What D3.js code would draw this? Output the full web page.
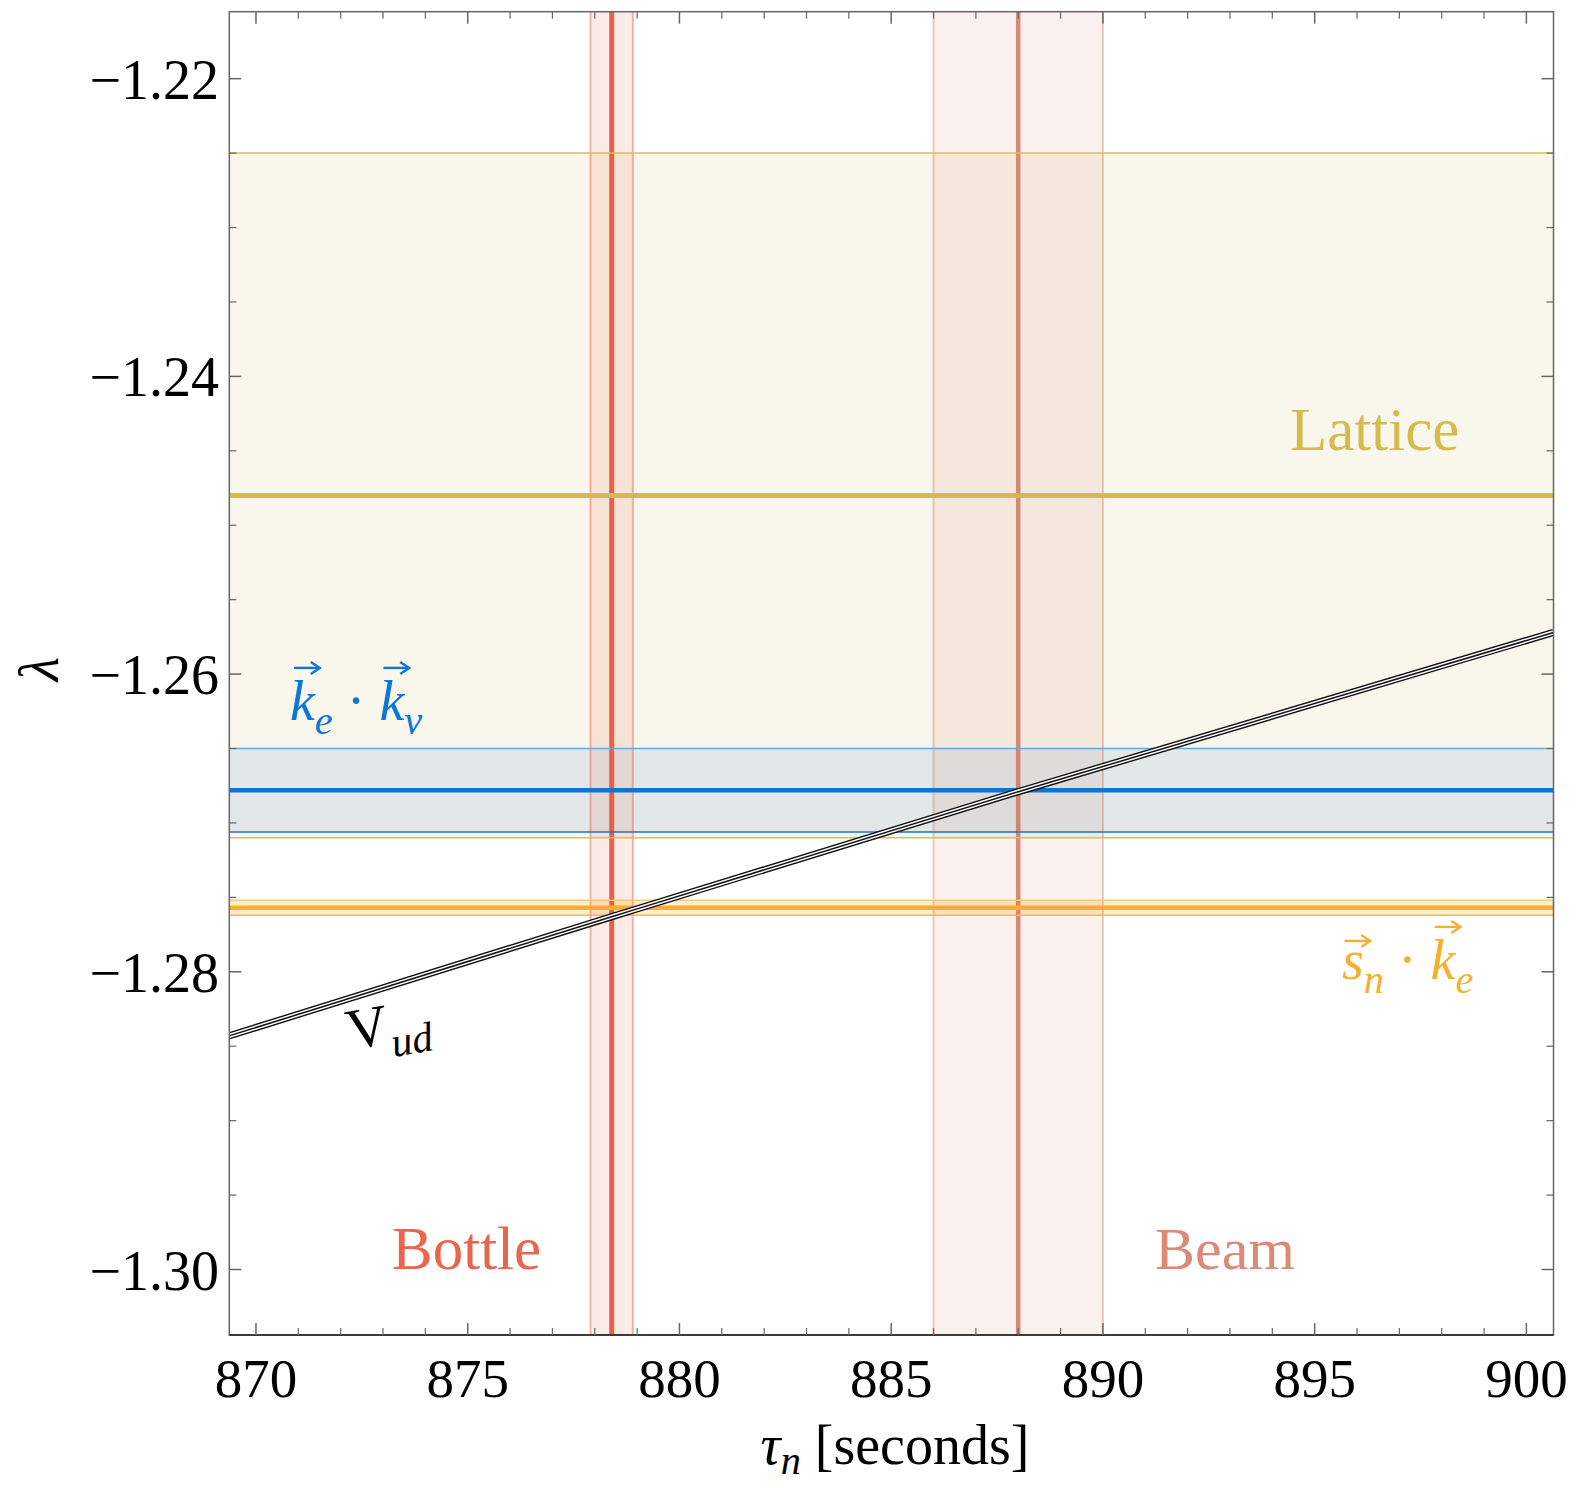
<!DOCTYPE html>
<html><head><meta charset="utf-8">
<script src="https://cdn.jsdelivr.net/npm/d3@7"></script>
<style>body{margin:0;background:#fff}svg{display:block}</style>
</head><body>
<svg id="c" width="1577" height="1488"></svg>
<script>
// ---- data ----
const xTicksMajor = [870, 875, 880, 885, 890, 895, 900];
const yTicksMajor = [-1.30, -1.28, -1.26, -1.24, -1.22];
const xDomain = [869.37, 900.64];
const yDomain = [-1.3044, -1.2155];
const vBandNames = ["Bottle", "Beam"];
const vBandCenter = [878.4, 888.0];
const vBandErr = [0.5, 2.0];
const hBandNames = ["Lattice", "keknu", "snke"];
const hBandCenter = [-1.248, -1.2678, -1.2757];
const hBandErr = [0.023, 0.0028, 0.0005];
const vudTau = [869.37, 878.4, 888.0, 900.64];
const vudLambda = [-1.2843, -1.2763, -1.2679, -1.2572];

// ---- layout ----
const L = 229.3, T = 11.7, R = 1553.5, B = 1335;
const svg = d3.select("#c");
const x = d3.scaleLinear(xDomain, [L, R]);
const y = d3.scaleLinear(yDomain, [B, T]);
const serif = "'Liberation Serif','Times New Roman',serif";

svg.append("defs").append("clipPath").attr("id", "clip")
  .append("rect").attr("x", L).attr("y", T).attr("width", R - L).attr("height", B - T);
const plot = svg.append("g").attr("clip-path", "url(#clip)");

const vStyle = {
  Bottle: {fill: "rgba(235,122,95,0.15)", edge: "rgba(235,100,70,0.45)", line: "#E8604A", lw: 5},
  Beam:   {fill: "rgba(205,105,85,0.10)", edge: "rgba(205,110,90,0.35)", line: "rgba(200,100,75,0.72)", lw: 4.5}
};
const hStyle = {
  Lattice: {fill: "rgba(205,180,97,0.12)", edgeTop: "#D6BF5C", edgeBot: "#D6BF5C", line: "#D4BC4C", lw: 5},
  keknu:   {fill: "rgba(20,105,185,0.10)", edgeTop: "#62AAE8", edgeBot: "#1F72C6", line: "#0A74DA", lw: 4.5},
  snke:    {fill: "rgba(245,175,45,0.22)", edgeTop: "#F9CB70", edgeBot: "#F6B840", line: "#F5B02E", lw: 4.5}
};

// fills
hBandNames.forEach((n, i) => {
  plot.append("rect").attr("x", L).attr("width", R - L)
    .attr("y", y(hBandCenter[i] + hBandErr[i]))
    .attr("height", y(hBandCenter[i] - hBandErr[i]) - y(hBandCenter[i] + hBandErr[i]))
    .attr("fill", hStyle[n].fill);
});
vBandNames.forEach((n, i) => {
  plot.append("rect").attr("y", T).attr("height", B - T)
    .attr("x", x(vBandCenter[i] - vBandErr[i]))
    .attr("width", x(vBandCenter[i] + vBandErr[i]) - x(vBandCenter[i] - vBandErr[i]))
    .attr("fill", vStyle[n].fill);
});
// vertical edges and center lines
vBandNames.forEach((n, i) => {
  const s = vStyle[n];
  [vBandCenter[i] - vBandErr[i], vBandCenter[i] + vBandErr[i]].forEach(v => {
    plot.append("line").attr("x1", x(v)).attr("x2", x(v)).attr("y1", T).attr("y2", B)
      .attr("stroke", s.edge).attr("stroke-width", 2);
  });
  plot.append("line").attr("x1", x(vBandCenter[i])).attr("x2", x(vBandCenter[i]))
    .attr("y1", T).attr("y2", B).attr("stroke", s.line).attr("stroke-width", s.lw);
});
// horizontal edges and center lines
hBandNames.forEach((n, i) => {
  const s = hStyle[n];
  const ed = [[hBandCenter[i] + hBandErr[i], s.edgeTop], [hBandCenter[i] - hBandErr[i], s.edgeBot]];
  ed.forEach(([v, c]) => {
    plot.append("line").attr("x1", L).attr("x2", R).attr("y1", y(v)).attr("y2", y(v))
      .attr("stroke", c).attr("stroke-width", 1.5);
  });
  plot.append("line").attr("x1", L).attr("x2", R)
    .attr("y1", y(hBandCenter[i])).attr("y2", y(hBandCenter[i]))
    .attr("stroke", s.line).attr("stroke-width", s.lw);
});

// V_ud triple line
const vud = d3.line().x(d => x(d[0])).y(d => y(d[1])).curve(d3.curveMonotoneX);
const vudData = vudTau.map((t, i) => [t, vudLambda[i]]);
[["#111", 7.2], ["#fff", 4.4], ["#111", 1.5]].forEach(([c, w]) => {
  plot.append("path").attr("d", vud(vudData)).attr("fill", "none")
    .attr("stroke", c).attr("stroke-width", w);
});

// frame
const frame = svg.append("g");
frame.append("rect").attr("x", L).attr("y", T).attr("width", R - L).attr("height", B - T)
  .attr("fill", "none").attr("stroke", "#666").attr("stroke-width", 1.5);
frame.append("line").attr("x1", L).attr("x2", R).attr("y1", B).attr("y2", B)
  .attr("stroke", "#222").attr("stroke-width", 1.6);

// ticks
const xMinor = d3.range(870, 901, 1).filter(v => !xTicksMajor.includes(v));
const yMinor = d3.range(-1.300, -1.2149, 0.005).filter(v => !yTicksMajor.some(m => Math.abs(m - v) < 1e-6) && v > yDomain[0] && v < yDomain[1]);
const tickG = svg.append("g").attr("stroke", "#666");
function xt(v, len, w) {
  tickG.append("line").attr("x1", x(v)).attr("x2", x(v)).attr("y1", B).attr("y2", B - len).attr("stroke-width", w);
  tickG.append("line").attr("x1", x(v)).attr("x2", x(v)).attr("y1", T).attr("y2", T + len).attr("stroke-width", w);
}
function yt(v, len, w) {
  tickG.append("line").attr("y1", y(v)).attr("y2", y(v)).attr("x1", L).attr("x2", L + len).attr("stroke-width", w);
  tickG.append("line").attr("y1", y(v)).attr("y2", y(v)).attr("x1", R).attr("x2", R - len).attr("stroke-width", w);
}
xTicksMajor.forEach(v => xt(v, 12, 1.5));
xMinor.forEach(v => xt(v, 7, 1.2));
yTicksMajor.forEach(v => yt(v, 12, 1.5));
yMinor.forEach(v => yt(v, 7, 1.2));

// tick labels
const fmtY = v => "\u2212" + Math.abs(v).toFixed(2);
svg.append("g").selectAll("text").data(xTicksMajor).join("text")
  .attr("x", d => x(d)).attr("y", 1397).attr("text-anchor", "middle")
  .attr("font-family", serif).attr("font-size", 55).attr("fill", "#000").text(d => d);
svg.append("g").selectAll("text").data(yTicksMajor).join("text")
  .attr("x", 219).attr("y", d => y(d) + 20).attr("text-anchor", "end")
  .attr("font-family", serif).attr("font-size", 56).attr("fill", "#000").text(fmtY);

// rich text helper
function rich(parent, px, py, parts, fs, color, anchor, subK) {
  const sk = subK === undefined ? 0.25 : subK;
  const t = parent.append("text").attr("x", px).attr("y", py)
    .attr("font-family", serif).attr("font-size", fs).attr("fill", color)
    .attr("text-anchor", anchor || "start");
  let cur = 0, idx = 0;
  const vecs = [];
  parts.forEach(p => {
    const shift = p.sub ? sk * fs : 0;
    t.append("tspan").attr("dy", shift - cur)
      .attr("font-size", p.sub ? fs * 0.72 : fs)
      .attr("font-style", p.it ? "italic" : "normal").text(p.t);
    cur = shift;
    if (p.vec) vecs.push({i: idx, h: p.vec});
    idx += p.t.length;
  });
  const node = t.node();
  vecs.forEach(v => {
    const e = node.getExtentOfChar(v.i);
    const cx = e.x + e.width / 2 + 0.08 * fs;
    const w = 0.46 * fs;
    const ay = py - v.h * fs;
    const x0 = cx - w / 2, x1 = cx + w / 2;
    parent.append("line").attr("x1", x0).attr("x2", x1 - 2).attr("y1", ay).attr("y2", ay)
      .attr("stroke", color).attr("stroke-width", 2.4);
    parent.append("path")
      .attr("d", `M${x1 - 9},${ay - 6} L${x1},${ay} L${x1 - 9},${ay + 6}`)
      .attr("fill", "none").attr("stroke", color).attr("stroke-width", 2.4)
      .attr("stroke-linejoin", "miter");
  });
  return t;
}

const labels = svg.append("g");
// band labels
labels.append("text").attr("x", 1290).attr("y", 450).attr("font-family", serif)
  .attr("font-size", 61).attr("fill", "#D4BC4C").text(hBandNames[0]);
labels.append("text").attr("x", 392).attr("y", 1269).attr("font-family", serif)
  .attr("font-size", 61).attr("fill", "#E8654E").text(vBandNames[0]);
labels.append("text").attr("x", 1155).attr("y", 1269).attr("font-family", serif)
  .attr("font-size", 60).attr("fill", "#DA8A77").text(vBandNames[1]);

rich(labels, 290, 720, [
  {t: "k", it: true, vec: 0.93}, {t: "e", it: true, sub: true}, {t: " \u00B7 "},
  {t: "k", it: true, vec: 0.93}, {t: "\u03BD", it: true, sub: true}
], 56, "#0C77D9");
rich(labels, 1342, 979, [
  {t: "s", it: true, vec: 0.68}, {t: "n", it: true, sub: true}, {t: " \u00B7 "},
  {t: "k", it: true, vec: 0.93}, {t: "e", it: true, sub: true}
], 56, "#F5B02E");

// V_ud label
const vg = labels.append("g").attr("transform", "rotate(-10,350,1050)");
rich(vg, 350, 1050, [{t: "V"}, {t: "ud", it: true, sub: true}], 58, "#000");

// axis titles
rich(svg, 895, 1464, [{t: "\u03C4", it: true}, {t: "n", it: true, sub: true}, {t: " [seconds]"}], 56, "#000", "middle", 0.17);
svg.append("text").attr("transform", "translate(58,669) rotate(-90)")
  .attr("text-anchor", "middle").attr("font-family", serif).attr("font-style", "italic")
  .attr("font-size", 56).attr("fill", "#000").text("\u03BB");
</script>
</body></html>
